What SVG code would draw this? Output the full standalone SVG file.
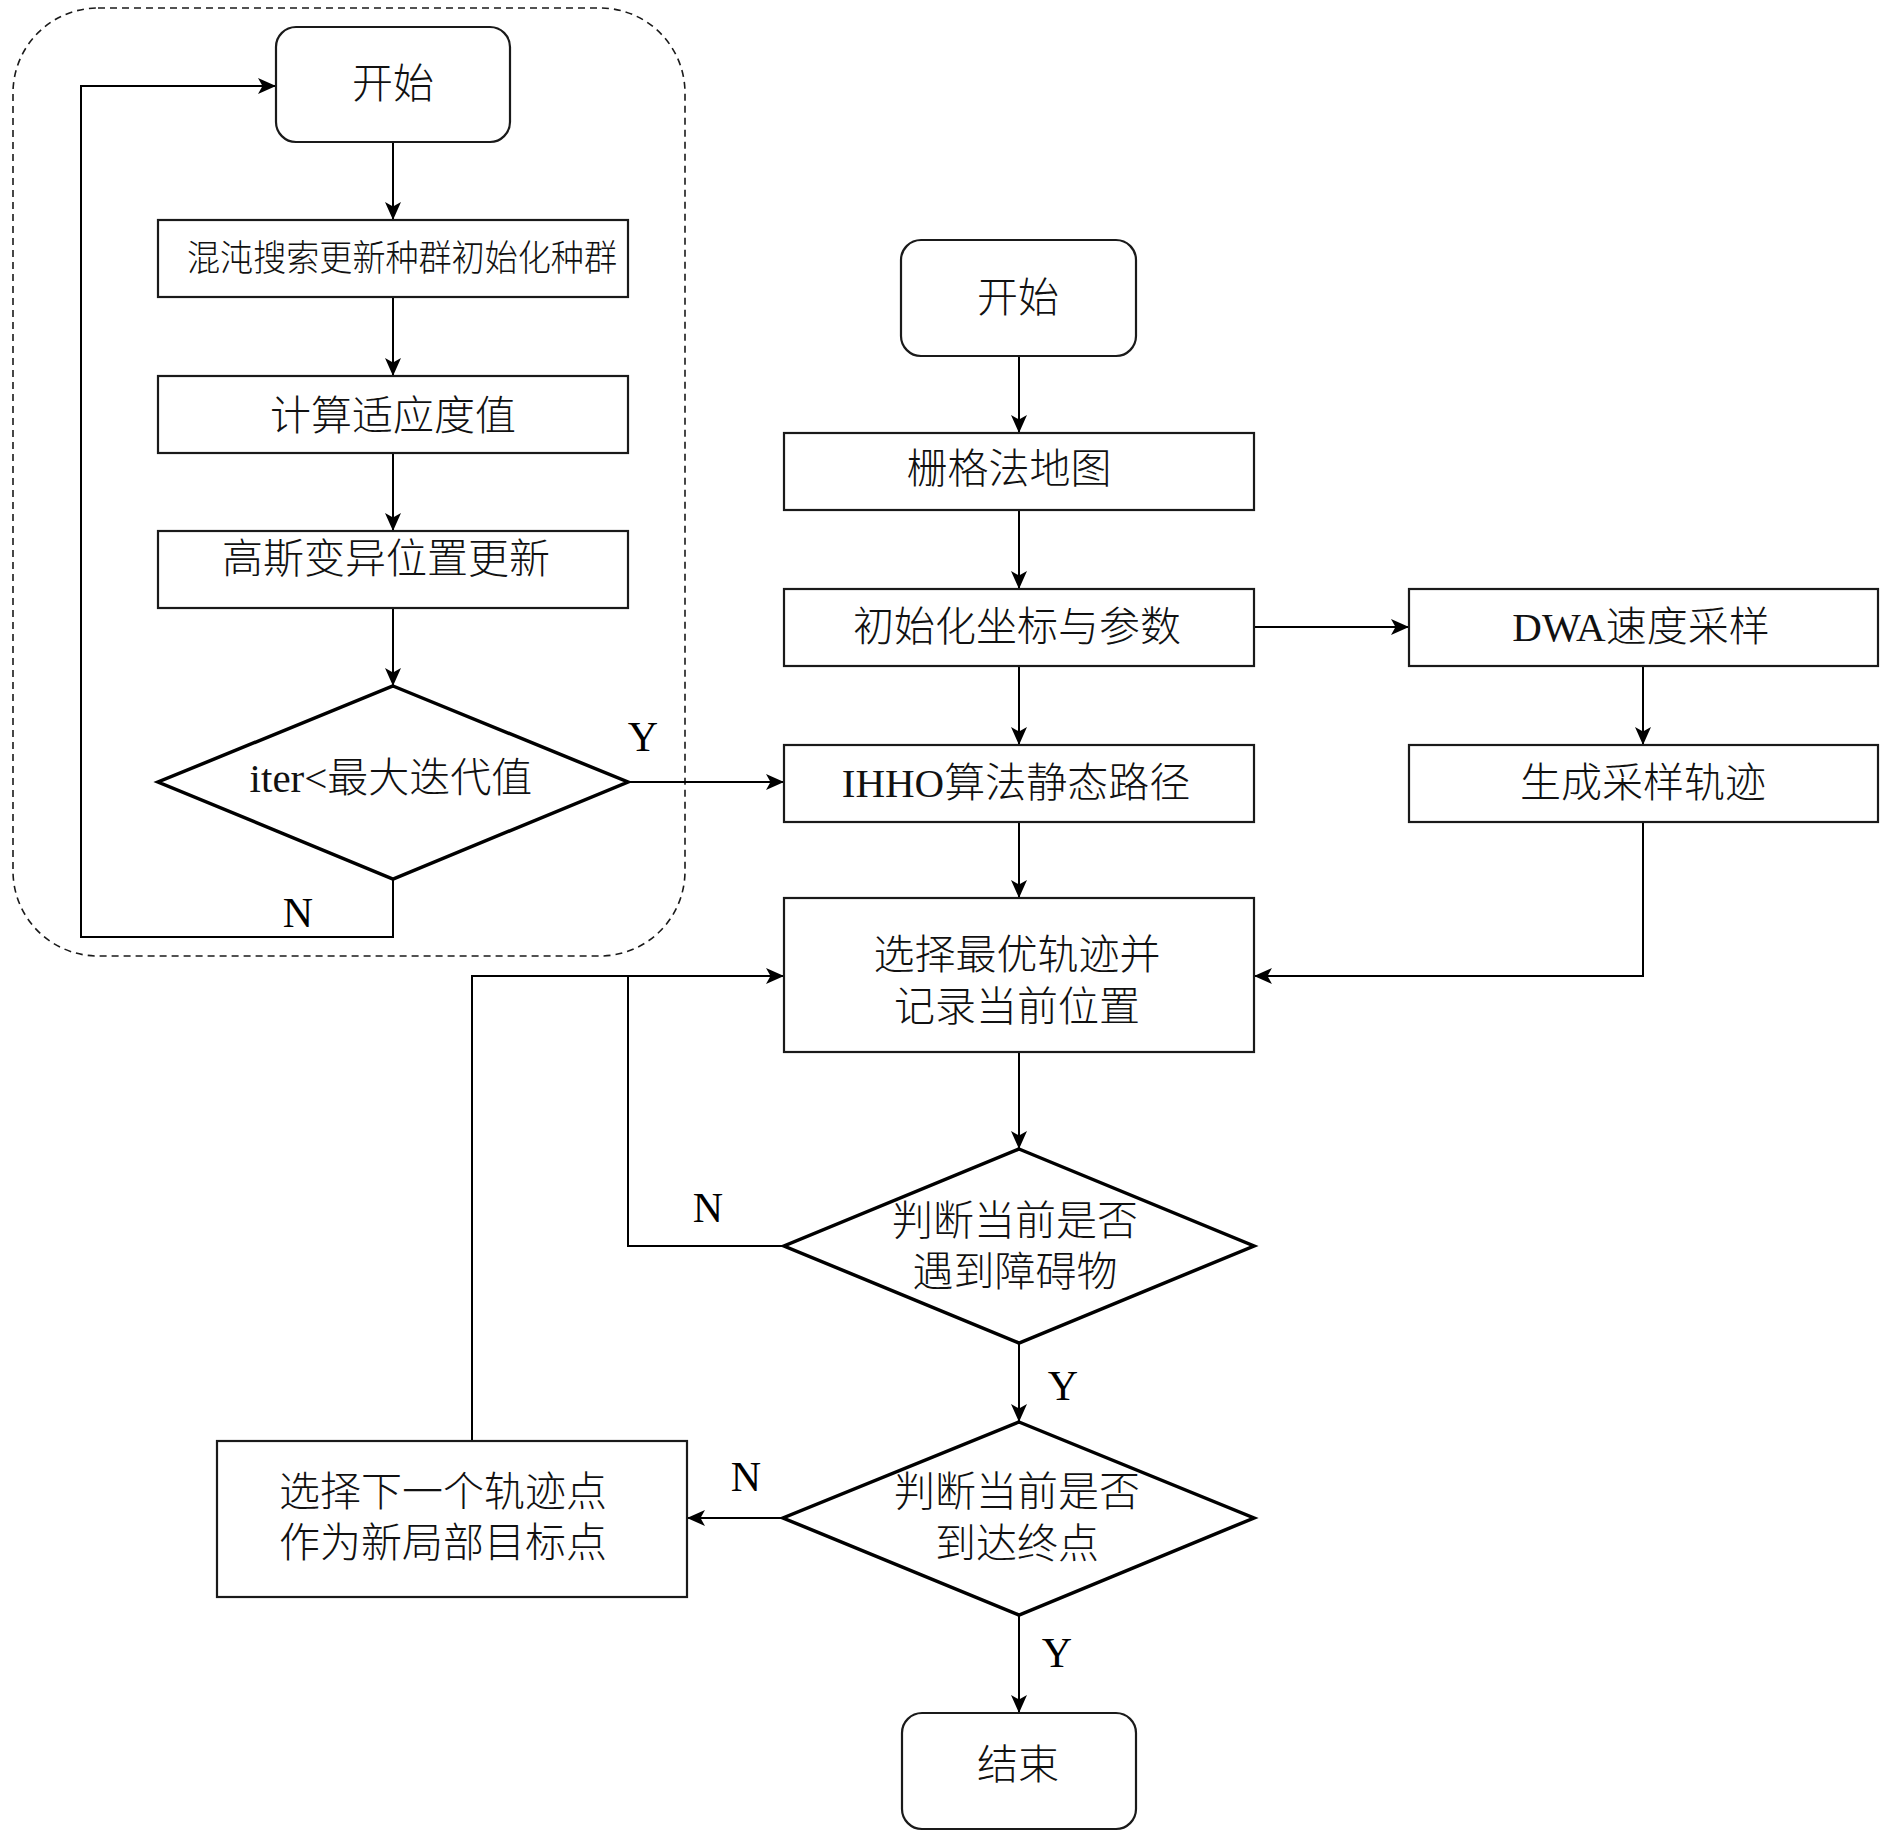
<svg xmlns="http://www.w3.org/2000/svg" width="1890" height="1838" viewBox="0 0 1890 1838">
<style>
.bg{fill:#ffffff}
.box{fill:#ffffff;stroke:#1a1a1a;stroke-width:2.2}
.dia{fill:#ffffff;stroke:#000000;stroke-width:3.5}
.cont{fill:none;stroke:#1a1a1a;stroke-width:1.6;stroke-dasharray:7 5}
.edge{fill:none;stroke:#000000;stroke-width:2}
.t{font-family:"Liberation Serif","Noto Sans CJK SC",serif;font-size:41px;font-weight:300;fill:#111111;text-anchor:middle}
.ts{font-size:36px}
.lbl{font-family:"Liberation Serif","Noto Sans CJK SC",serif;font-size:42px;fill:#000000;text-anchor:middle}
</style>
<defs>
<marker id="arr" markerUnits="userSpaceOnUse" markerWidth="20" markerHeight="18" refX="18" refY="8" orient="auto">
<path d="M0,0 L18,8 L0,16 L4.5,8 Z" fill="#000000"/>
</marker>
</defs>
<rect class="bg" x="0" y="0" width="1890" height="1838"/>
<g id="container">
<rect class="cont" x="13" y="8" width="672" height="948" rx="85" ry="85"/>
</g>
<g id="edges">
<line class="edge" x1="393" y1="142" x2="393" y2="220" marker-end="url(#arr)"/>
<line class="edge" x1="393" y1="297" x2="393" y2="376" marker-end="url(#arr)"/>
<line class="edge" x1="393" y1="453" x2="393" y2="531" marker-end="url(#arr)"/>
<line class="edge" x1="393" y1="608" x2="393" y2="686" marker-end="url(#arr)"/>
<polyline class="edge" points="393,879 393,937 81,937 81,86 276,86" marker-end="url(#arr)"/>
<line class="edge" x1="629" y1="782" x2="784" y2="782" marker-end="url(#arr)"/>
<line class="edge" x1="1019" y1="356" x2="1019" y2="433" marker-end="url(#arr)"/>
<line class="edge" x1="1019" y1="510" x2="1019" y2="589" marker-end="url(#arr)"/>
<line class="edge" x1="1019" y1="666" x2="1019" y2="745" marker-end="url(#arr)"/>
<line class="edge" x1="1254" y1="627" x2="1409" y2="627" marker-end="url(#arr)"/>
<line class="edge" x1="1643" y1="666" x2="1643" y2="745" marker-end="url(#arr)"/>
<line class="edge" x1="1019" y1="822" x2="1019" y2="898" marker-end="url(#arr)"/>
<polyline class="edge" points="1643,822 1643,976 1254,976" marker-end="url(#arr)"/>
<line class="edge" x1="1019" y1="1052" x2="1019" y2="1149" marker-end="url(#arr)"/>
<polyline class="edge" points="784,1246 628,1246 628,976 784,976" marker-end="url(#arr)"/>
<polyline class="edge" points="472,1441 472,976 628,976"/>
<line class="edge" x1="1019" y1="1343" x2="1019" y2="1422" marker-end="url(#arr)"/>
<line class="edge" x1="783" y1="1518" x2="687" y2="1518" marker-end="url(#arr)"/>
<line class="edge" x1="1019" y1="1615" x2="1019" y2="1713" marker-end="url(#arr)"/>
</g>
<g id="labels">
<text class="lbl" x="298" y="927">N</text>
<text class="lbl" x="643" y="751">Y</text>
<text class="lbl" x="708" y="1222">N</text>
<text class="lbl" x="1063" y="1400">Y</text>
<text class="lbl" x="746" y="1491">N</text>
<text class="lbl" x="1057" y="1667">Y</text>
</g>
<g id="start1">
<rect class="box" x="276" y="27" width="234" height="115" rx="20" ry="20"/>
<text class="t" x="393" y="98">开始</text>
</g>
<g id="chaos">
<rect class="box" x="158" y="220" width="470" height="77"/>
<text class="t ts" x="402" y="271" textLength="430" lengthAdjust="spacingAndGlyphs">混沌搜索更新种群初始化种群</text>
</g>
<g id="fitness">
<rect class="box" x="158" y="376" width="470" height="77"/>
<text class="t" x="393" y="430">计算适应度值</text>
</g>
<g id="gauss">
<rect class="box" x="158" y="531" width="470" height="77"/>
<text class="t" x="386" y="573">高斯变异位置更新</text>
</g>
<g id="iter">
<polygon class="dia" points="393,686 628,782 393,879 158,782"/>
<text class="t" x="391" y="792">iter&lt;最大迭代值</text>
</g>
<g id="start2">
<rect class="box" x="901" y="240" width="235" height="116" rx="20" ry="20"/>
<text class="t" x="1018" y="312">开始</text>
</g>
<g id="grid">
<rect class="box" x="784" y="433" width="470" height="77"/>
<text class="t" x="1009" y="483">栅格法地图</text>
</g>
<g id="init">
<rect class="box" x="784" y="589" width="470" height="77"/>
<text class="t" x="1017" y="641">初始化坐标与参数</text>
</g>
<g id="ihho">
<rect class="box" x="784" y="745" width="470" height="77"/>
<text class="t" x="1016" y="797">IHHO算法静态路径</text>
</g>
<g id="dwa">
<rect class="box" x="1409" y="589" width="469" height="77"/>
<text class="t" x="1641" y="641">DWA速度采样</text>
</g>
<g id="gen">
<rect class="box" x="1409" y="745" width="469" height="77"/>
<text class="t" x="1643" y="797">生成采样轨迹</text>
</g>
<g id="select">
<rect class="box" x="784" y="898" width="470" height="154"/>
<text class="t" x="1017" y="969">选择最优轨迹并</text>
<text class="t" x="1017" y="1021">记录当前位置</text>
</g>
<g id="obstacle">
<polygon class="dia" points="1019,1149 1254,1246 1019,1343 784,1246"/>
<text class="t" x="1015" y="1235">判断当前是否</text>
<text class="t" x="1015" y="1286">遇到障碍物</text>
</g>
<g id="goal">
<polygon class="dia" points="1019,1422 1254,1518 1019,1615 783,1518"/>
<text class="t" x="1017" y="1506">判断当前是否</text>
<text class="t" x="1017" y="1558">到达终点</text>
</g>
<g id="next">
<rect class="box" x="217" y="1441" width="470" height="156"/>
<text class="t" x="443" y="1506">选择下一个轨迹点</text>
<text class="t" x="443" y="1557">作为新局部目标点</text>
</g>
<g id="end">
<rect class="box" x="902" y="1713" width="234" height="116" rx="20" ry="20"/>
<text class="t" x="1018" y="1779">结束</text>
</g>
</svg>
